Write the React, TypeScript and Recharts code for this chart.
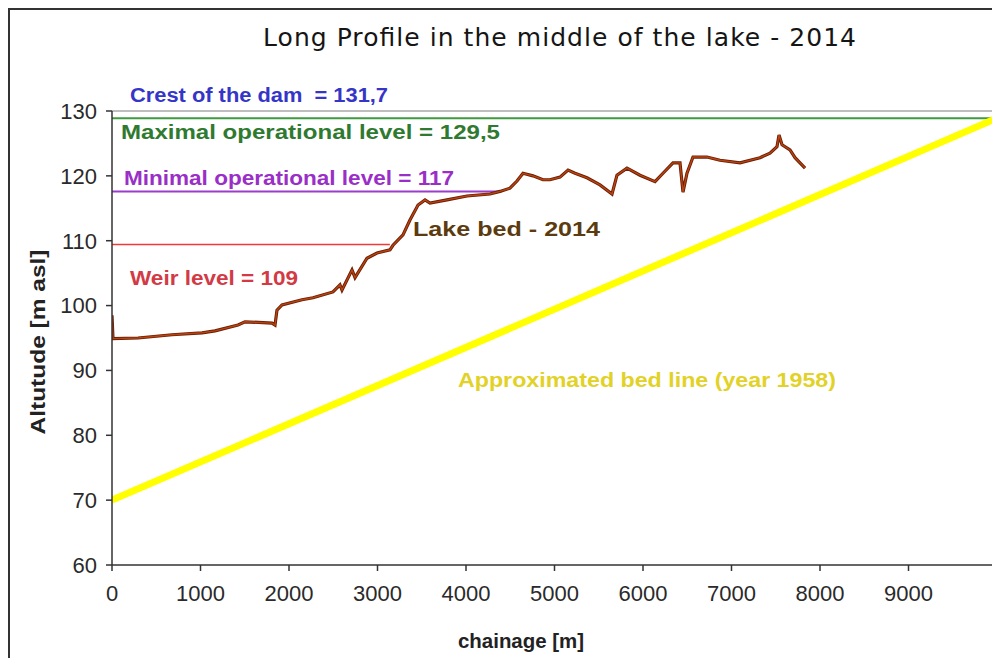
import {
  LineChart,
  Line,
  XAxis,
  YAxis,
  ReferenceLine,
} from "recharts";

// lake bed 2014
const bedChainage = [
  0, 11, 294, 678, 1017, 1164, 1424, 1503, 1808, 1842, 1864, 1921, 2147, 2271, 2497, 2576,
  2599, 2712, 2746, 2881, 2994, 3141, 3175, 3288, 3367, 3458, 3537, 3593, 3785, 4011, 4271,
  4384, 4497, 4576, 4644, 4757, 4870, 4949, 5062, 5153, 5232, 5367, 5514, 5650, 5706, 5819,
  5966, 6136, 6226, 6339, 6418, 6452, 6497, 6565, 6723, 6870, 7096, 7322, 7435, 7514, 7537,
  7571, 7661, 7718, 7774, 7831,
];
const bedAltitude = [
  98.5, 94.9, 95.0, 95.5, 95.8, 96.1, 97.0, 97.5, 97.3, 97.0, 99.3, 100.1, 100.9, 101.2, 102.1, 103.2,
  102.4, 105.5, 104.3, 107.3, 108.1, 108.6, 109.3, 110.9, 113.2, 115.5, 116.3, 115.8, 116.3, 116.9, 117.2,
  117.6, 118.1, 119.2, 120.4, 120.0, 119.4, 119.4, 119.8, 120.9, 120.4, 119.7, 118.6, 117.2, 120.1, 121.2,
  120.1, 119.1, 120.4, 122.0, 122.0, 117.5, 120.4, 122.9, 122.9, 122.4, 122.0, 122.8, 123.5, 124.5, 126.3,
  124.8, 124.0, 122.8, 122.0, 121.2,
];

// approximated bed line (1958): start and end
const line1958Chainage = [0, 10000];
const line1958Altitude = [70, 128.9];

// operational levels as drawn: [altitude, end chainage]
const maxLevel = [128.9, 10000];
const minLevel = [117.6, 4400];
const weirLevel = [109.4, 3140];

const xTicks = [0, 1000, 2000, 3000, 4000, 5000, 6000, 7000, 8000, 9000, 10000];
const yTicks = [60, 70, 80, 90, 100, 110, 120, 130];

const bedData = bedChainage.map((x, i) => ({ x, y: bedAltitude[i] }));
const line1958 = line1958Chainage.map((x, i) => ({ x, y: line1958Altitude[i] }));
const levelData = (lv: number[]) => [{ x: 0, y: lv[0] }, { x: lv[1], y: lv[0] }];

const W = 992;
const H = 650;
const ARIAL = "'Liberation Sans', Arial, sans-serif";

// annotation text, x/baseline in chart coords, stretched to the width seen in the picture
function Label({ x, y, len, size = 20, color, bold = true, family = ARIAL, adjust = "spacingAndGlyphs", children }: any) {
  return (
    <text
      x={x}
      y={y}
      textLength={len}
      lengthAdjust={adjust}
      fontSize={size}
      fontWeight={bold ? "bold" : "normal"}
      fill={color}
      fontFamily={family}
      style={{ whiteSpace: "pre" }}
    >
      {children}
    </text>
  );
}

export default function App() {
  return (
    <div style={{ position: "relative", width: W, height: H, overflow: "hidden", background: "#fff" }}>
      <div style={{ position: "absolute", left: 0, top: 0, width: W, height: 2, background: "#333" }} />
      <div style={{ position: "absolute", left: 0, top: 0, width: 2, height: H, background: "#333" }} />

      <div style={{ position: "absolute", left: 0, top: 0 }}>
        <LineChart width={W} height={H} margin={{ top: 103, right: 3, left: 44, bottom: 53 }}>
          <XAxis
            dataKey="x"
            type="number"
            domain={[0, 10000]}
            ticks={xTicks}
            tickFormatter={(v) => (v === 10000 ? "" : String(v))}
            allowDataOverflow
            height={40}
            tick={{ fontSize: 22, fill: "#2a2a2a", fontFamily: ARIAL }}
            axisLine={{ stroke: "#333", strokeWidth: 1.5 }}
            tickLine={{ stroke: "#333", strokeWidth: 1.5 }}
            tickSize={6}
            tickMargin={14}
          />
          <YAxis
            dataKey="y"
            type="number"
            domain={[60, 130]}
            ticks={yTicks}
            allowDataOverflow
            width={60}
            tick={{ fontSize: 22, fill: "#2a2a2a", fontFamily: ARIAL }}
            axisLine={{ stroke: "#333", strokeWidth: 1.5 }}
            tickLine={{ stroke: "#333", strokeWidth: 1.5 }}
            tickSize={6}
            tickMargin={9}
          />
          <ReferenceLine y={130} stroke="#a8a8a8" strokeWidth={1.5} />
          <ReferenceLine x={10000} stroke="#a8a8a8" strokeWidth={1.5} />

          <Line data={levelData(weirLevel)} dataKey="y" stroke="#f03a3a" strokeWidth={1.5} dot={false} isAnimationActive={false} />
          <Line data={levelData(minLevel)} dataKey="y" stroke="#9a3ccc" strokeWidth={2} dot={false} isAnimationActive={false} />
          <Line data={levelData(maxLevel)} dataKey="y" stroke="#3e9a3e" strokeWidth={2} dot={false} isAnimationActive={false} />

          <Line data={line1958} dataKey="y" stroke="#ffff00" strokeWidth={7} dot={false} isAnimationActive={false} />

          <Line data={bedData} dataKey="y" stroke="#6a1e06" strokeWidth={3.2} dot={false} isAnimationActive={false} />
          <Line data={bedData} dataKey="y" stroke="#b8440f" strokeWidth={1.4} dot={false} isAnimationActive={false} />
        </LineChart>
      </div>

      <svg width={W} height={H} style={{ position: "absolute", left: 0, top: 0, pointerEvents: "none" }}>
        <Label x={255} y={38} len={593} size={25} color="#151515" bold={false} family="'DejaVu Sans', Verdana, sans-serif" adjust="spacing">
          Long Profile in the middle of the lake - 2014
        </Label>
        <Label x={122} y={94} len={258} color="#3535c8">Crest of the dam  = 131,7</Label>
        <Label x={113} y={131} len={379} color="#2f7a30">Maximal operational level = 129,5</Label>
        <Label x={116} y={177} len={330} color="#9a2fc8">Minimal operational level = 117</Label>
        <Label x={122} y={277} len={168} color="#d23a46">Weir level = 109</Label>
        <Label x={405} y={228} len={187} color="#5c3b10">Lake bed - 2014</Label>
        <Label x={450} y={379} len={378} color="#e2d228">Approximated bed line (year 1958)</Label>
        <Label x={450} y={640} len={126} color="#222">chainage [m]</Label>
        <g transform="translate(37, 334) rotate(-90)">
          <text
            x={0}
            y={0}
            textAnchor="middle"
            textLength={185}
            lengthAdjust="spacingAndGlyphs"
            fontSize={20}
            fontWeight="bold"
            fill="#222"
            fontFamily={ARIAL}
          >
            Altutude [m asl]
          </text>
        </g>
      </svg>
    </div>
  );
}
